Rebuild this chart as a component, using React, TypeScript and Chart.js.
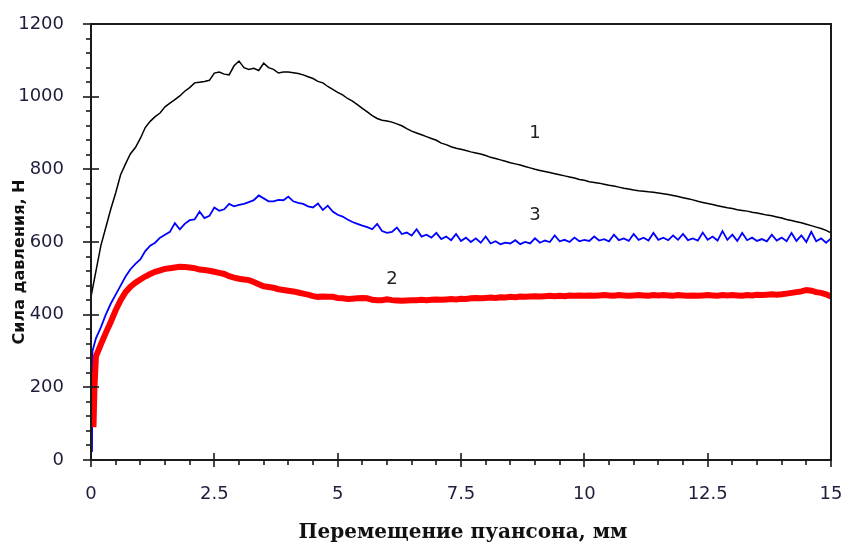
import React, { useEffect, useRef } from "react";
import { Chart, registerables } from "chart.js";

Chart.register(...registerables);

// ---- axes ----
const X_MIN = 0;
const X_MAX = 15;
const X_MAJOR = 2.5;
const X_MINOR = 0.5;
const Y_MIN = 0;
const Y_MAX = 1200;
const Y_MAJOR = 200;
const Y_MINOR = 40;
const SAMPLE_STEP = 0.1; // sampling grid of the recorded curves, mm

const xTitle = "Перемещение пуансона, мм";
const yTitle = "Сила давления, Н";

// ---- curve 1 (black), samples at x = 0, 0.1, ... 15 ----
const curve1Force = [
  449, 520, 590, 640, 690, 735, 785, 815, 843, 860,
  885, 915, 932, 945, 955, 972, 982, 992, 1002, 1015,
  1025, 1038, 1040, 1042, 1045, 1065, 1068, 1062, 1060, 1085,
  1098, 1080, 1075, 1078, 1072, 1092, 1080, 1075, 1065, 1068,
  1068, 1066, 1064, 1060, 1055, 1050, 1042, 1038, 1028, 1020,
  1012, 1005, 995, 988, 978, 968, 958, 948, 940, 935,
  933, 930, 925, 920, 912, 905, 900, 895, 890, 885,
  880, 872, 868, 862, 858, 855, 852, 848, 845, 842,
  838, 833, 830, 826, 822, 818, 815, 812, 808, 804,
  800, 797, 794, 791, 788, 785, 782, 779, 776, 772,
  770, 766, 764, 762, 759, 756, 754, 751, 748, 746,
  743, 741, 740, 738, 737, 735, 733, 731, 728, 725,
  722, 719, 716, 712, 709, 706, 703, 700, 697, 694,
  692, 689, 687, 685, 682, 680, 677, 674, 672, 669,
  666, 662, 659, 656, 653, 649, 645, 641, 637, 632,
  625,
];

// ---- curve 3 (blue): first points, then samples at x = 0.1 ... 15 ----
const curve3StartX = [0.02, 0.03];
const curve3StartForce = [22, 300];
const curve3Force = [
  335, 365, 400, 430, 455, 480, 505, 525, 540, 552,
  575, 590, 598, 612, 620, 628, 652, 635, 650, 660,
  662, 684, 666, 672, 695, 686, 690, 705, 698, 702,
  705, 710, 715, 728, 720, 712, 712, 716, 715, 725,
  712, 708, 705, 698, 695, 706, 688, 700, 684, 675,
  670, 662, 655, 650, 645, 641, 635, 650, 630, 625,
  628, 640, 622, 626, 618, 635, 615, 620, 612, 625,
  608, 615, 605, 622, 603, 612, 600, 610, 598, 615,
  596, 602, 594, 598, 596, 605, 594, 600, 596, 610,
  598, 604, 600, 618, 602, 606, 600, 612, 602, 606,
  603, 615, 604, 608, 602, 620, 605, 610, 603, 622,
  606, 612, 604, 625, 606, 612, 605, 618, 606, 622,
  605, 610, 604, 626, 606, 615, 604, 630, 606, 620,
  603, 625, 605, 612, 603, 608, 602, 620, 604, 612,
  602, 625, 603, 618, 600, 628, 602, 610, 598, 610,
];

// ---- curve 2 (red): first points, then samples at x = 0.1 ... 15 ----
const curve2StartX = [0.05, 0.07];
const curve2StartForce = [90, 200];
const curve2Force = [
  285, 318, 350, 380, 412, 440, 462, 477, 488, 497,
  505, 512, 518, 522, 526, 528, 530, 532, 531, 530,
  528, 524, 523, 521, 518, 515, 512, 506, 502, 499,
  497, 495, 490, 484, 478, 476, 474, 470, 468, 466,
  464, 461, 458, 455, 451, 449, 450, 449, 449, 446,
  445, 443, 444, 445, 446, 445, 441, 440, 440, 442,
  440, 439, 438, 439, 440, 440, 441, 440, 441, 442,
  441, 442, 443, 442, 444, 443, 445, 446, 445, 446,
  447, 446, 448, 447, 449, 448, 450, 449, 450, 451,
  450, 451, 452, 451, 452, 451, 453, 452, 453, 452,
  453, 452, 453, 454, 453, 452, 454, 453, 452, 453,
  454, 453, 452, 454, 453, 454, 453, 452, 454, 453,
  452, 453, 452, 453, 454, 453, 452, 454, 453, 454,
  453, 452, 454, 453, 455, 454, 455, 456, 455, 456,
  458, 460, 462, 464, 468, 466, 462, 460, 456, 450,
];

// ---- curve labels ----
const labelTexts = ["1", "3", "2"];
const labelX = [9.0, 9.0, 6.1];
const labelY = [900, 674, 498];

function gridPoints(values: number[], firstX: number) {
  return values.map((v, i) => ({ x: +(firstX + i * SAMPLE_STEP).toFixed(2), y: v }));
}
function pairPoints(xs: number[], ys: number[]) {
  return xs.map((x, i) => ({ x, y: ys[i] }));
}

const INK = "#1a1a1a";
const TICK_TEXT = "#1e1e3c";

const decorPlugin = {
  id: "decor",
  afterDatasetsDraw(chart: any) {
    const ctx = chart.ctx as CanvasRenderingContext2D;
    const xs = chart.scales.x;
    const ys = chart.scales.y;
    const { left, right, top, bottom } = chart.chartArea;
    ctx.save();
    ctx.strokeStyle = INK;
    ctx.lineWidth = 2;
    ctx.lineCap = "butt";
    // frame
    ctx.beginPath();
    ctx.moveTo(left, top);
    ctx.lineTo(right, top);
    ctx.lineTo(right, bottom);
    ctx.lineTo(left, bottom);
    ctx.closePath();
    ctx.stroke();
    // y ticks
    ctx.lineWidth = 1.6;
    const nY = Math.round((Y_MAX - Y_MIN) / Y_MINOR);
    for (let i = 0; i <= nY; i++) {
      const v = Y_MIN + i * Y_MINOR;
      const major = Math.abs(v / Y_MAJOR - Math.round(v / Y_MAJOR)) < 1e-6;
      const py = Math.round(ys.getPixelForValue(v));
      ctx.beginPath();
      ctx.moveTo(left - (major ? 8 : 5), py);
      ctx.lineTo(left + (major ? 8 : 0), py);
      ctx.stroke();
    }
    // x ticks
    const nX = Math.round((X_MAX - X_MIN) / X_MINOR);
    for (let i = 0; i <= nX; i++) {
      const v = X_MIN + i * X_MINOR;
      const major = Math.abs(v / X_MAJOR - Math.round(v / X_MAJOR)) < 1e-6;
      const px = Math.round(xs.getPixelForValue(v));
      ctx.beginPath();
      ctx.moveTo(px, bottom + (major ? 7 : 5));
      ctx.lineTo(px, bottom - (major ? 7 : 0));
      ctx.stroke();
    }
    // curve labels
    ctx.fillStyle = "#222";
    ctx.font = "18px 'DejaVu Sans'";
    ctx.textAlign = "center";
    ctx.textBaseline = "middle";
    labelTexts.forEach((t, i) => {
      ctx.fillText(t, xs.getPixelForValue(labelX[i]), ys.getPixelForValue(labelY[i]));
    });
    // axis titles
    ctx.fillStyle = "#111";
    ctx.font = "bold 20px 'DejaVu Serif'";
    ctx.fillText(xTitle, 463, 533);
    ctx.save();
    ctx.translate(20, 262);
    ctx.rotate(-Math.PI / 2);
    ctx.font = "bold 16px 'DejaVu Sans'";
    ctx.fillText(yTitle, 0, 0);
    ctx.restore();
    ctx.restore();
  },
};

export default function App() {
  const ref = useRef<HTMLCanvasElement>(null);
  useEffect(() => {
    const canvas = ref.current;
    if (!canvas) return;
    const tickFont = { family: "'DejaVu Sans'", size: 18 };
    const chart = new Chart(canvas, {
      type: "line",
      data: {
        datasets: [
          {
            label: "1",
            data: gridPoints(curve1Force, 0),
            borderColor: "#000000",
            borderWidth: 1.5,
            pointRadius: 0,
            tension: 0,
            order: 1,
          },
          {
            label: "2",
            data: [...pairPoints(curve2StartX, curve2StartForce), ...gridPoints(curve2Force, 0.1)],
            borderColor: "#ff0000",
            borderWidth: 6,
            pointRadius: 0,
            tension: 0,
            order: 2,
          },
          {
            label: "3",
            data: [...pairPoints(curve3StartX, curve3StartForce), ...gridPoints(curve3Force, 0.1)],
            borderColor: "#0000ff",
            borderWidth: 1.8,
            pointRadius: 0,
            tension: 0,
            order: 3,
          },
        ],
      },
      options: {
        responsive: false,
        animation: false,
        devicePixelRatio: 1,
        layout: { padding: { left: 0, right: 14, top: 24, bottom: 0 } },
        plugins: { legend: { display: false }, tooltip: { enabled: false } },
        scales: {
          x: {
            type: "linear",
            min: X_MIN,
            max: X_MAX,
            afterFit: (s: any) => {
              s.height = 88;
              s.paddingLeft = 0;
              s.paddingRight = 0;
            },
            grid: { display: false },
            border: { display: false },
            ticks: {
              stepSize: X_MAJOR,
              padding: 16,
              font: tickFont,
              color: TICK_TEXT,
              maxRotation: 0,
              autoSkip: false,
              callback: (v: any) => String(v),
            },
          },
          y: {
            type: "linear",
            min: Y_MIN,
            max: Y_MAX,
            afterFit: (s: any) => {
              s.width = 91;
              s.paddingTop = 0;
              s.paddingBottom = 0;
            },
            grid: { display: false },
            border: { display: false },
            ticks: {
              stepSize: Y_MAJOR,
              padding: 19,
              font: tickFont,
              color: TICK_TEXT,
              autoSkip: false,
              callback: (v: any) => String(v),
            },
          },
        },
      },
      plugins: [decorPlugin],
    });
    return () => chart.destroy();
  }, []);
  return (
    <div style={{ position: "absolute", left: 0, top: 0, width: 845, height: 548, background: "#fff" }}>
      <canvas ref={ref} width={845} height={548} style={{ display: "block", width: 845, height: 548 }} />
    </div>
  );
}
